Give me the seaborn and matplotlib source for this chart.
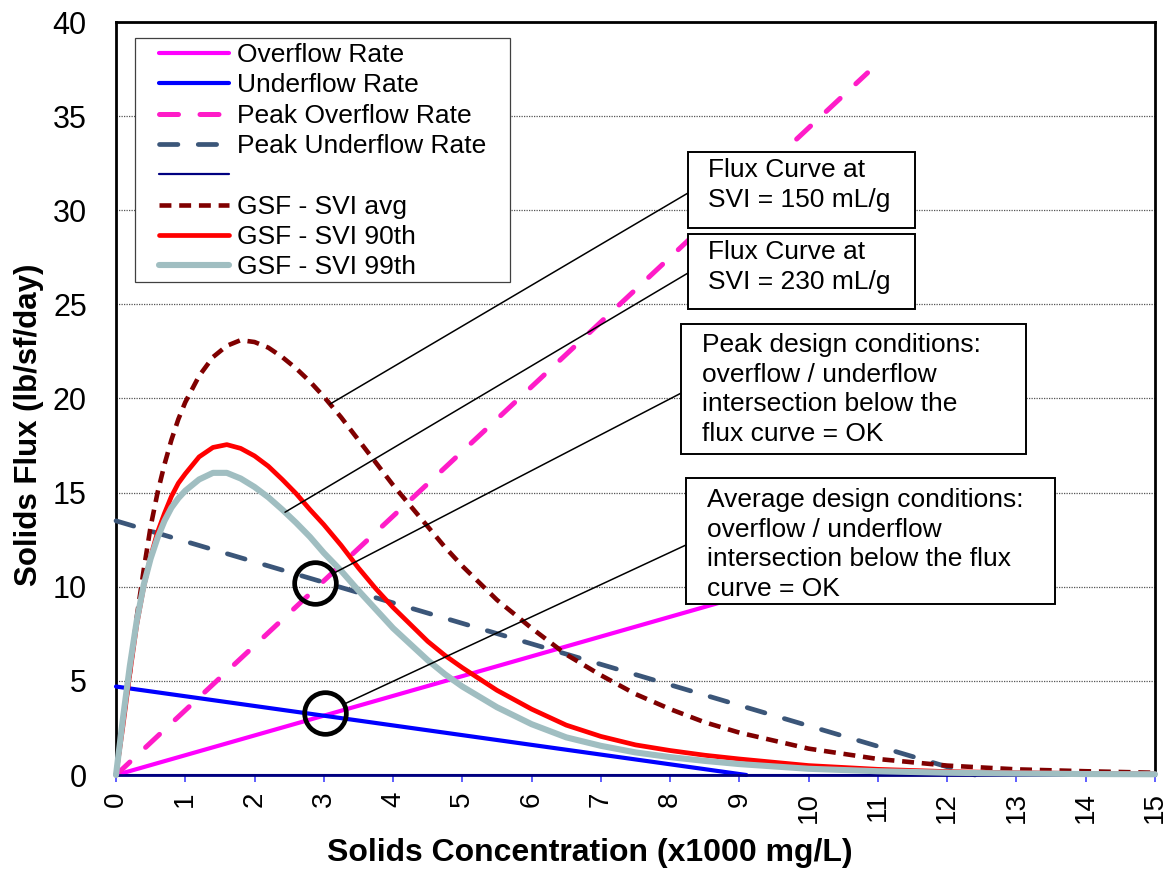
import numpy as np
import matplotlib
matplotlib.use("Agg")
import matplotlib.pyplot as plt
from matplotlib.patches import Rectangle
from matplotlib.lines import Line2D
import seaborn as sns

# design lines (x1000 mg/L vs lb/sf/day)
overflow_x = [0, 9.5]
overflow_y = [0, 9.98]
underflow_x = [0, 9.1]
underflow_y = [4.7, 0]
peak_overflow_x = [0, 10.85]
peak_overflow_y = [0, 37.3]
peak_underflow_x = [0, 12.4]
peak_underflow_y = [13.5, 0]
base_x = [0, 15]
base_y = [0, 0]

# gravity settling flux curves
gsf_x = [0, 0.05, 0.1, 0.15, 0.2, 0.3, 0.4, 0.5, 0.6, 0.7, 0.8, 0.9, 1.0,
         1.2, 1.4, 1.6, 1.8, 2.0, 2.2, 2.4, 2.6, 2.8, 3.0, 3.25, 3.5, 3.75, 4.0,
         4.25, 4.5, 4.75, 5.0, 5.5, 6, 6.5, 7, 7.5, 8, 8.5, 9, 10, 11, 12, 13, 14, 15]
gsf_avg = [0, 1.4, 2.8, 4.1, 5.4, 8.4, 10.9, 13.2, 15.0, 16.5, 17.8, 18.9, 19.8,
           21.2, 22.2, 22.8, 23.1, 23.0, 22.7, 22.2, 21.6, 20.9, 20.1, 19.0, 17.8, 16.6, 15.4,
           14.3, 13.2, 12.1, 11.1, 9.3, 7.8, 6.4, 5.3, 4.3, 3.5, 2.8, 2.25, 1.4, 0.85, 0.5, 0.3, 0.2, 0.12]
gsf_90 = [0, 1.3, 2.6, 4.0, 5.4, 8.0, 10.0, 11.6, 12.9, 13.9, 14.8, 15.5, 16.0,
          16.9, 17.4, 17.55, 17.35, 16.95, 16.4, 15.7, 14.95, 14.1, 13.3, 12.2, 11.0, 9.9, 8.9,
          8.0, 7.1, 6.35, 5.7, 4.5, 3.5, 2.65, 2.05, 1.6, 1.3, 1.05, 0.85, 0.5, 0.3, 0.18, 0.12, 0.08, 0.06]
gsf_99 = [0, 1.5, 3.0, 4.4, 5.8, 8.2, 10.1, 11.5, 12.6, 13.5, 14.2, 14.7, 15.1,
          15.7, 16.05, 16.05, 15.75, 15.3, 14.75, 14.1, 13.4, 12.65, 11.8, 10.85, 9.8, 8.8, 7.8,
          6.95, 6.1, 5.35, 4.7, 3.6, 2.7, 2.0, 1.55, 1.2, 0.95, 0.75, 0.58, 0.33, 0.2, 0.12, 0.08, 0.05, 0.04]

# intersections marked with circles
circle_x = [2.87, 3.02]
circle_y = [10.2, 3.3]

sns.set_theme(style="white")
plt.rcParams["font.family"] = ["Liberation Sans", "DejaVu Sans"]
plt.rcParams["text.color"] = "black"
plt.rcParams["axes.labelcolor"] = "black"

fig = plt.figure(figsize=(11.67, 8.72), dpi=100)
ax = fig.add_axes([116 / 1167, 1 - 775 / 872, 1039 / 1167, 753 / 872])

series = [
    (overflow_x, overflow_y, "Overflow Rate", dict(color="#FF00FF", lw=3.0, ls="-")),
    (underflow_x, underflow_y, "Underflow Rate", dict(color="#0000FF", lw=3.0, ls="-")),
    (peak_overflow_x, peak_overflow_y, "Peak Overflow Rate",
     dict(color="#FF1CC8", lw=3.6, ls=(0, (3.8, 4.3)), dash_capstyle="round")),
    (peak_underflow_x, peak_underflow_y, "Peak Underflow Rate",
     dict(color="#3B5679", lw=3.4, ls=(0, (3.9, 4.3)), dash_capstyle="round")),
    (base_x, base_y, "", dict(color="#000080", lw=2.0, ls="-")),
    (gsf_x, gsf_avg, "GSF - SVI avg", dict(color="#800000", lw=3.3, ls=(0, (2.6, 1.7)))),
    (gsf_x, gsf_90, "GSF - SVI 90th", dict(color="#FF0000", lw=3.4, ls="-")),
    (gsf_x, gsf_99, "GSF - SVI 99th", dict(color="#A0BEC1", lw=4.4, ls="-")),
]

handles = []
labels = []
for i, (xs, ys, name, st) in enumerate(series):
    sns.lineplot(x=xs, y=ys, ax=ax, color=st["color"], linewidth=st["lw"],
                 linestyle=st["ls"], dash_capstyle=st.get("dash_capstyle", "butt"),
                 solid_capstyle="round", solid_joinstyle="round", clip_on=False,
                 zorder=3 + i * 0.1, sort=False, estimator=None)
    handles.append(Line2D([], [], color=st["color"], linewidth=st["lw"] if name else 1.6,
                          linestyle=st["ls"], dash_capstyle=st.get("dash_capstyle", "butt"),
                          solid_capstyle="round"))
    labels.append(name)

ax.set_xlim(0, 15)
ax.set_ylim(0, 40)
ax.set_xticks(range(0, 16))
ax.set_yticks(range(0, 41, 5))
ax.tick_params(axis="x", direction="out", length=5, width=1.1, colors="#3333FF",
               labelcolor="black", labelsize=20, labelrotation=90, pad=7, bottom=True)
ax.tick_params(axis="y", length=0, labelsize=22, pad=21, labelcolor="black")
ax.yaxis.grid(True, color="#555555", linestyle=(0, (1, 1)), linewidth=0.9)
ax.xaxis.grid(False)
ax.set_axisbelow(True)

for side in ["left", "top", "right"]:
    ax.spines[side].set_color("black")
    ax.spines[side].set_linewidth(2.0)
ax.spines["bottom"].set_color("#000080")
ax.spines["bottom"].set_linewidth(1.5)

ax.set_xlabel("Solids Concentration (x1000 mg/L)", fontsize=23, fontweight="bold",
              color="black")
ax.set_ylabel("Solids Flux (lb/sf/day)", fontsize=22.5, fontweight="bold", color="black")
ax.xaxis.set_label_coords(0.456, -0.084)
ax.yaxis.set_label_coords(-0.069, 0.465)

# circles around the intersections
ax.plot(circle_x, circle_y, linestyle="none", marker="o", markersize=30,
        markerfacecolor="none", markeredgecolor="black", markeredgewidth=3.4,
        clip_on=False, zorder=6)

# annotation leader lines
leaders = [
    ((3.09, np.interp(3.09, gsf_x, gsf_avg)), (8.26, 30.92), 0),
    ((2.44, np.interp(2.44, gsf_x, gsf_99)), (8.26, 26.67), 0),
    ((circle_x[0], circle_y[0]), (8.16, 20.29), 16),
    ((circle_x[1], circle_y[1]), (8.23, 12.22), 16),
]
for start, end, shrink in leaders:
    ax.annotate("", xy=start, xytext=end,
                arrowprops=dict(arrowstyle="-", color="black", lw=1.1,
                                shrinkA=0, shrinkB=shrink), zorder=5)

# annotation boxes
boxes = [
    ((8.26, 29.06), 3.27, 4.03, (8.55, 32.78), "Flux Curve at\nSVI = 150 mL/g"),
    ((8.26, 24.75), 3.27, 3.99, (8.55, 28.42), "Flux Curve at\nSVI = 230 mL/g"),
    ((8.16, 17.05), 4.98, 6.91, (8.46, 23.48),
     "Peak design conditions:\noverflow / underflow\nintersection below the\nflux curve = OK"),
    ((8.23, 9.08), 5.33, 6.70, (8.53, 15.25),
     "Average design conditions:\noverflow / underflow\nintersection below the flux\ncurve = OK"),
]
for (bx, by), bw, bh, (tx, ty), txt in boxes:
    ax.add_patch(Rectangle((bx, by), bw, bh, facecolor="white", edgecolor="black",
                           linewidth=1.4, zorder=7))
    ax.text(tx, ty, txt, fontsize=19, ha="left", va="top", linespacing=1.3,
            color="black", zorder=8)

# legend with its own frame
ax.add_patch(Rectangle((0.0183, 0.6547), 0.3609, 0.3241, transform=ax.transAxes,
                       facecolor="white", edgecolor="#404040", linewidth=0.9, zorder=9))
leg = ax.legend(handles, labels, loc="upper left", bbox_to_anchor=(0.0414, 0.972),
                borderaxespad=0, borderpad=0, frameon=False, fontsize=19,
                handlelength=2.65, handletextpad=0.31, labelspacing=0.24)
leg.set_zorder(10)
for t in leg.get_texts():
    t.set_color("black")

fig.savefig("out.png", dpi=100)
